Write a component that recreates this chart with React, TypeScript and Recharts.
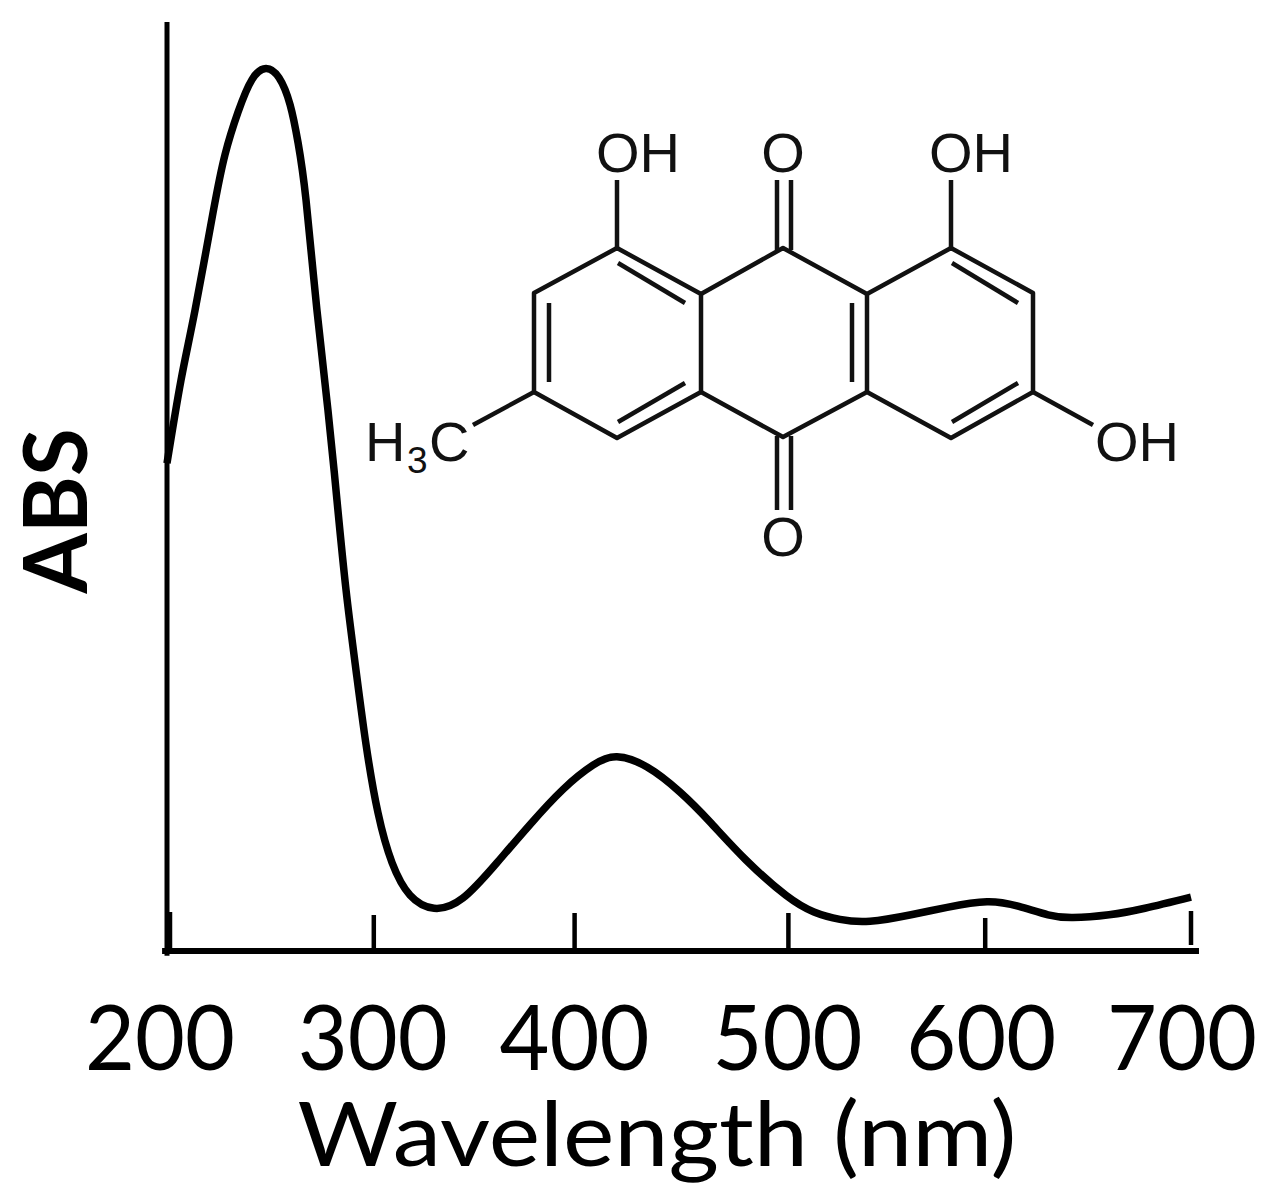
import { Line, LineChart, ReferenceLine, XAxis, YAxis } from 'recharts';

const wavelengths = [
  200, 206.8, 213.7, 222.5, 228.3, 234.7, 241.5, 248.3, 254.7, 260.1, 264, 267.9, 273.2, 278.6,
  283, 287.4, 292.3, 297.2, 303, 309.9, 318.7, 330.4, 344.5, 361.1, 377.2, 393.4, 408,
  419.7, 434.4, 450.5, 465.1, 482.7, 502.2, 515.9, 528.6, 543.3, 563.3, 580.9, 600.4,
  616, 630.2, 642.4, 660, 677.5, 700,
];
const absorbance = [
  52.5, 61.4, 69, 79.5, 85.7, 90.3, 93.8, 95, 94, 91.1, 87, 80.8, 69, 58.2,
  48.5, 38.9, 30.2, 22.2, 14.9, 9.5, 6, 4.6, 5.7, 9.5, 13.6, 17.4, 20,
  20.9, 19.8, 17.1, 13.9, 9.8, 6, 4.2, 3.4, 3.2, 3.9, 4.7, 5.3,
  4.8, 3.9, 3.6, 3.9, 4.6, 5.8,
];
const xTicks = [200, 300, 400, 500, 600, 700];

const data = wavelengths.map((w, i) => ({ w, abs: absorbance[i] }));

// the tick marks and labels are hand placed in the original, not quite on the scale
const markShift: Record<number, number> = { 200: 3, 300: 2, 400: -2, 500: 7, 600: -1, 700: 0 };
const markTop: Record<number, number> = { 200: 39, 300: 36, 400: 38, 500: 38, 600: 33, 700: 40 };
const markBottom: Record<number, number> = { 200: 0, 300: 0, 400: 0, 500: 0, 600: 0, 700: 6 };
const labelShift: Record<number, number> = { 200: -7, 300: 1, 400: -2, 500: 6, 600: -5, 700: -9 };

function WavelengthTick({ x, y, payload }: any) {
  const v = payload.value as number;
  return (
    <g>
      <line
        x1={x + markShift[v]}
        x2={x + markShift[v]}
        y1={y - markTop[v]}
        y2={y - markBottom[v]}
        stroke="#000"
        strokeWidth={4.5}
      />
      <text
        x={x + labelShift[v]}
        y={y + 119}
        textAnchor="middle"
        textLength={150}
        lengthAdjust="spacingAndGlyphs"
        fontFamily="Lato"
        fontSize={92}
        fill="#000"
      >
        {v}
      </text>
    </g>
  );
}

// skeletal formula in the upper right of the plot
const rings = [
  '617,248 534,293 534,392 617,438 701,392 701,294 617,248',
  '701,294 783,248 867,294 951,248 1033,293 1033,392 951,438 867,392 783,437 701,392',
  '867,294 867,392',
];
const bonds = [
  [617, 180, 617, 248],
  [951, 180, 951, 248],
  [777, 180, 777, 250],
  [791, 180, 791, 250],
  [777, 436, 777, 510],
  [791, 436, 791, 510],
  [1033, 392, 1093, 425],
  [534, 392, 473, 425],
  [618, 263, 685, 303],
  [549, 303, 549, 382],
  [618, 422, 685, 383],
  [852, 303, 852, 382],
  [952, 263, 1018, 303],
  [952, 422, 1018, 383],
];

function Molecule() {
  const font = { fontFamily: 'Liberation Sans', fontSize: 56, fill: '#111' };
  return (
    <g>
      {rings.map((p) => (
        <polyline key={p} points={p} fill="none" stroke="#111" strokeWidth={4.5} strokeLinejoin="round" />
      ))}
      {bonds.map((b) => (
        <line key={b.join()} x1={b[0]} y1={b[1]} x2={b[2]} y2={b[3]} stroke="#111" strokeWidth={4.5} />
      ))}
      <text x={638} y={172} textAnchor="middle" {...font}>OH</text>
      <text x={783} y={172} textAnchor="middle" {...font}>O</text>
      <text x={971} y={172} textAnchor="middle" {...font}>OH</text>
      <text x={783} y={556} textAnchor="middle" {...font}>O</text>
      <text x={1137} y={461} textAnchor="middle" {...font}>OH</text>
      <text x={365} y={461} {...font}>H</text>
      <text x={407} y={473} {...font} fontSize={37}>3</text>
      <text x={429} y={461} {...font}>C</text>
    </g>
  );
}

function AbsLabel() {
  return (
    <text
      transform="translate(87 511) rotate(-90)"
      textAnchor="middle"
      textLength={165}
      lengthAdjust="spacingAndGlyphs"
      fontFamily="Lato"
      fontWeight={700}
      fontSize={88}
      fill="#000"
    >
      ABS
    </text>
  );
}

function XLabel() {
  return (
    <text
      x={657}
      y={1166}
      textAnchor="middle"
      textLength={719}
      lengthAdjust="spacingAndGlyphs"
      fontFamily="Lato"
      fontSize={90}
      fill="#000"
    >
      Wavelength (nm)
    </text>
  );
}

export default function App() {
  return (
    <div style={{ position: 'absolute', left: 0, top: 0, width: 1278, height: 1197, background: '#fff' }}>
      <LineChart
        width={1278}
        height={1197}
        data={data}
        margin={{ top: 22, right: 87, bottom: 46, left: 107 }}
      >
        <XAxis
          type="number"
          dataKey="w"
          domain={[200, 700]}
          ticks={xTicks}
          interval={0}
          height={200}
          axisLine={false}
          tickLine={false}
          tickSize={0}
          tickMargin={0}
          tick={WavelengthTick}
        />
        <YAxis type="number" domain={[0, 100]} width={60} axisLine={false} tick={false} tickLine={false} />
        <ReferenceLine
          ifOverflow="visible"
          segment={[{ x: 200, y: -0.5 }, { x: 200, y: 100 }]}
          stroke="#000"
          strokeWidth={5}
        />
        <ReferenceLine
          ifOverflow="visible"
          segment={[{ x: 197.6, y: 0 }, { x: 703.9, y: 0 }]}
          stroke="#000"
          strokeWidth={6}
        />
        <Line
          type="natural"
          dataKey="abs"
          stroke="#000"
          strokeWidth={7.5}
          dot={false}
          activeDot={false}
          isAnimationActive={false}
        />
        <Molecule />
        <AbsLabel />
        <XLabel />
      </LineChart>
    </div>
  );
}
